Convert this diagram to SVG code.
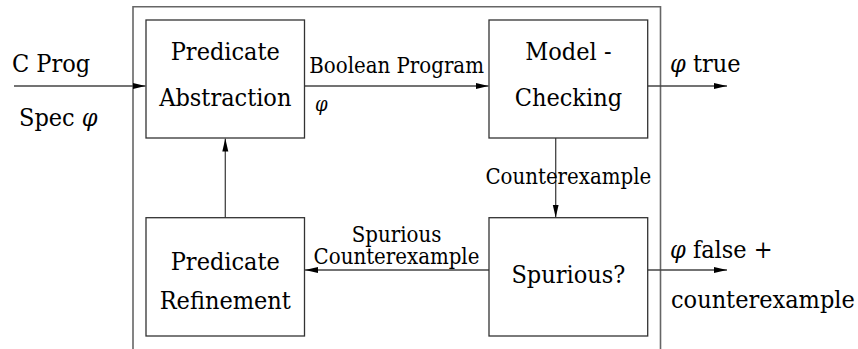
<svg xmlns="http://www.w3.org/2000/svg" width="858" height="349" viewBox="0 0 858 349">
<style>
text{fill:#000;font-family:"DejaVu Serif Condensed","DejaVu Serif",serif;font-stretch:condensed}
.big{font-size:25px}
.lbl{font-size:22px}
.mid{text-anchor:middle}
.box{fill:#fff;stroke:#333;stroke-width:1.3}
.frame{fill:none;stroke:#666;stroke-width:1.6}
.edge{fill:none;stroke:#444;stroke-width:1.3}
.phi{font-style:italic}
</style>
<defs>
<marker id="ah" markerWidth="13" markerHeight="8" refX="13" refY="4" orient="auto" markerUnits="userSpaceOnUse">
<path d="M0,1 L13,4 L0,7 Z" fill="#000"/>
</marker>
</defs>
<rect width="858" height="349" fill="#fff"/>
<path class="frame" d="M133,349 V6.7 H660.5 V349"/>
<g id="connectors">
<line class="edge" x1="14" y1="86" x2="145.5" y2="86" marker-end="url(#ah)"/>
<line class="edge" x1="304.5" y1="86" x2="488.5" y2="86" marker-end="url(#ah)"/>
<line class="edge" x1="647.7" y1="86" x2="727" y2="86" marker-end="url(#ah)"/>
<line class="edge" x1="555.7" y1="138" x2="555.7" y2="217.5" marker-end="url(#ah)"/>
<line class="edge" x1="225.3" y1="217.7" x2="225.3" y2="138.5" marker-end="url(#ah)"/>
<line class="edge" x1="489" y1="270" x2="305" y2="270" marker-end="url(#ah)"/>
<line class="edge" x1="647.7" y1="270" x2="727" y2="270" marker-end="url(#ah)"/>
</g>
<g id="abstraction">
<rect class="box" x="146" y="20" width="158.5" height="118"/>
<text class="big mid" x="225.3" y="60">Predicate</text>
<text class="big mid" x="225.3" y="106">Abstraction</text>
</g>
<g id="modelcheck">
<rect class="box" x="489" y="20" width="158.7" height="118"/>
<text class="big mid" x="568.4" y="60">Model -</text>
<text class="big mid" x="568.4" y="106">Checking</text>
</g>
<g id="refinement">
<rect class="box" x="146" y="217.7" width="158.5" height="118.3"/>
<text class="big mid" x="225.3" y="270">Predicate</text>
<text class="big mid" x="225.3" y="309.3">Refinement</text>
</g>
<g id="spurious">
<rect class="box" x="489" y="217.7" width="158.7" height="118.3"/>
<text class="big mid" x="568.4" y="283.3">Spurious?</text>
</g>
<g id="labels">
<text class="big" x="12" y="72">C Prog</text>
<text class="big" x="19" y="126">Spec <tspan class="phi">φ</tspan></text>
<text class="lbl" x="309.3" y="72.7">Boolean Program</text>
<text class="phi" font-size="20" x="315" y="111">φ</text>
<text class="lbl mid" x="568.3" y="184.3">Counterexample</text>
<text class="lbl mid" x="396.5" y="242" font-size="21">Spurious</text>
<text class="lbl mid" x="396.5" y="264">Counterexample</text>
<text class="big" x="670" y="72"><tspan class="phi">φ</tspan> true</text>
<text class="big" x="670" y="258.3"><tspan class="phi">φ</tspan> false +</text>
<text class="big" x="671" y="308.3">counterexample</text>
</g>
</svg>
